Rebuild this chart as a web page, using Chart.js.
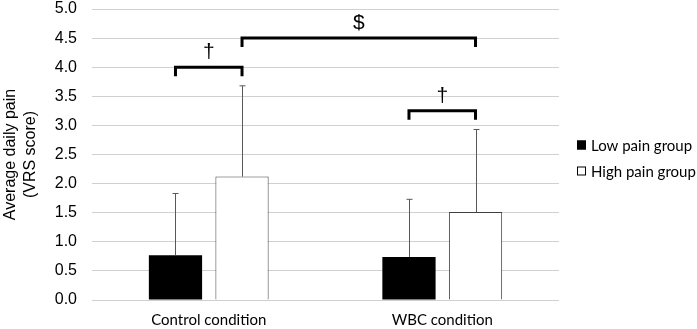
<!DOCTYPE html>
<html>
<head>
<meta charset="utf-8">
<script src="https://cdn.jsdelivr.net/npm/chart.js@4"></script>
<style>
  html, body { margin: 0; padding: 0; background: #fff; }
  #wrap { width: 697px; height: 329px; }
</style>
</head>
<body>
<div id="wrap"><canvas id="painChart" width="697" height="329"></canvas></div>
<script>
// data
const conditions = ["Control condition", "WBC condition"];
const lowPain = [0.77, 0.74];
const lowPainSD = [1.06, 0.99];
const highPain = [2.12, 1.51];
const highPainSD = [1.56, 1.42];
const yTicks = [0, 0.5, 1, 1.5, 2, 2.5, 3, 3.5, 4, 4.5, 5];

// significance brackets: [dataset, index] to [dataset, index] at a y level
const brackets = [
  { from: [0, 0], to: [1, 0], level: 4.0, text: "\u2020" },
  { from: [1, 0], to: [1, 1], level: 4.5, text: "$" },
  { from: [0, 1], to: [1, 1], level: 3.25, text: "\u2020" },
];

const errorBars = {
  id: "errorBars",
  afterDatasetsDraw(chart) {
    const ctx = chart.ctx;
    const y = chart.scales.y;
    ctx.save();
    ctx.strokeStyle = "#595959";
    ctx.lineWidth = 1;
    chart.data.datasets.forEach((ds, i) => {
      const meta = chart.getDatasetMeta(i);
      meta.data.forEach((bar, j) => {
        const top = y.getPixelForValue(ds.data[j] + ds.sd[j]);
        const x = Math.round(bar.x) + 0.5;
        ctx.beginPath();
        ctx.moveTo(x, bar.y);
        ctx.lineTo(x, top);
        ctx.moveTo(x - 3, top);
        ctx.lineTo(x + 3, top);
        ctx.stroke();
      });
    });
    ctx.restore();
  }
};

const sigBrackets = {
  id: "sigBrackets",
  afterDraw(chart) {
    const ctx = chart.ctx;
    const y = chart.scales.y;
    ctx.save();
    ctx.strokeStyle = "#000";
    ctx.lineWidth = 3;
    ctx.fillStyle = "#000";
    ctx.textAlign = "center";
    ctx.textBaseline = "bottom";
    brackets.forEach(b => {
      const x1 = chart.getDatasetMeta(b.from[0]).data[b.from[1]].x;
      const x2 = chart.getDatasetMeta(b.to[0]).data[b.to[1]].x;
      const yy = y.getPixelForValue(b.level);
      ctx.beginPath();
      ctx.moveTo(x1, yy + 9);
      ctx.lineTo(x1, yy);
      ctx.lineTo(x2, yy);
      ctx.lineTo(x2, yy + 9);
      ctx.stroke();
      ctx.font = "21px 'Liberation Sans', Arial, sans-serif";
      ctx.fillText(b.text, (x1 + x2) / 2, yy - 4);
    });
    ctx.restore();
  }
};

const sideLegend = {
  id: "sideLegend",
  afterDraw(chart) {
    const ctx = chart.ctx;
    ctx.save();
    ctx.font = "15px Lato, sans-serif";
    ctx.textBaseline = "middle";
    chart.data.datasets.forEach((ds, i) => {
      const yy = 145 + i * 26;
      ctx.fillStyle = ds.backgroundColor;
      ctx.fillRect(577, yy - 4.5, 9, 9);
      ctx.strokeStyle = "#000";
      ctx.lineWidth = 1;
      ctx.strokeRect(577.5, yy - 4, 8, 8);
      ctx.fillStyle = "#000";
      ctx.fillText(ds.label, 591, yy + 1);
    });
    ctx.restore();
  }
};

const chart = new Chart("painChart", {
  type: "bar",
  data: {
    labels: conditions,
    datasets: [
      {
        label: "Low pain group",
        data: lowPain,
        sd: lowPainSD,
        backgroundColor: "#000000",
        borderColor: "#000000",
        borderWidth: 0,
      },
      {
        label: "High pain group",
        data: highPain,
        sd: highPainSD,
        backgroundColor: "#ffffff",
        borderColor: "#404040",
        borderWidth: 1,
      },
    ],
  },
  options: {
    responsive: false,
    animation: false,
    events: [],
    categoryPercentage: 0.57,
    barPercentage: 0.8,
    layout: { padding: { left: 0, right: 138, top: 9, bottom: 0 } },
    plugins: {
      legend: { display: false },
      tooltip: { enabled: false },
    },
    scales: {
      x: {
        grid: { display: false, drawTicks: false },
        border: { display: false },
        afterFit(scale) {
          scale.height = 29;
        },
        ticks: {
          color: "#000",
          padding: 11,
          maxRotation: 0,
          font: { family: "Lato", size: 15 },
        },
      },
      y: {
        min: 0,
        max: 5,
        afterBuildTicks(scale) {
          scale.ticks = yTicks.map(v => ({ value: v }));
        },
        afterFit(scale) {
          scale.width = 92;
          scale.paddingTop = 0;
          scale.paddingBottom = 0;
        },
        grid: { color: "#d0d0d0", lineWidth: 1, drawTicks: false },
        border: { display: false },
        ticks: {
          color: "#000",
          padding: 15,
          font: { family: "'Liberation Sans'", size: 16 },
          callback: v => v.toFixed(1),
        },
        title: {
          display: true,
          text: ["Average daily pain", "(VRS score)"],
          color: "#000",
          padding: { top: 1, bottom: 0 },
          font: { family: "'Liberation Sans'", size: 16, lineHeight: 1.25 },
        },
      },
    },
  },
  plugins: [errorBars, sigBrackets, sideLegend],
});
</script>
</body>
</html>
